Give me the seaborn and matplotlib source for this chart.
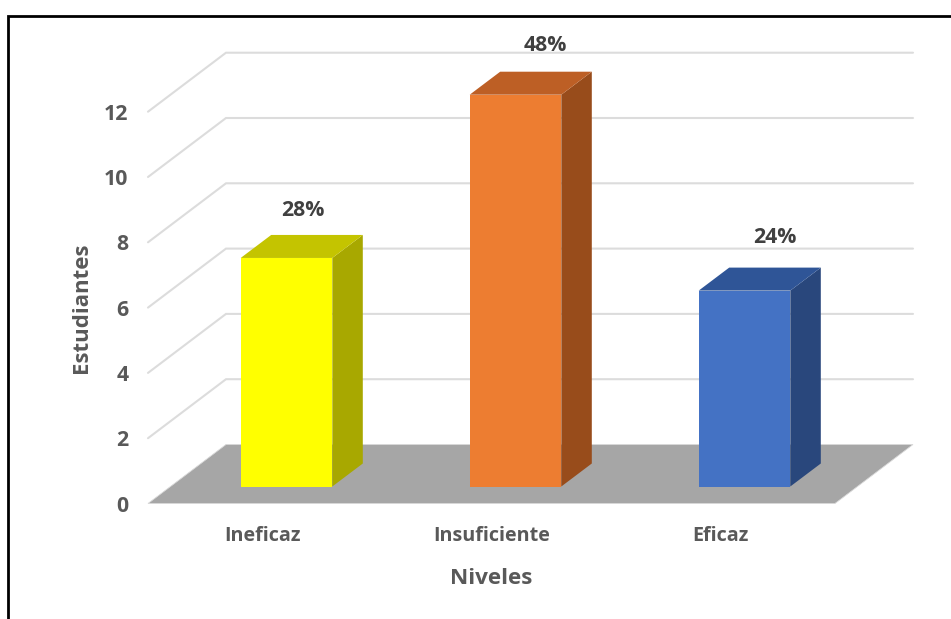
import matplotlib
matplotlib.use("Agg")
import matplotlib.pyplot as plt
import pandas as pd
import seaborn as sns
from matplotlib.lines import Line2D
from matplotlib.patches import Polygon

niveles = ["Ineficaz", "Insuficiente", "Eficaz"]
estudiantes = [7, 12, 6]
porcentajes = ["28%", "48%", "24%"]
y_ticks = [0, 2, 4, 6, 8, 10, 12]

front_colors = ["#ffff00", "#ed7d31", "#4472c4"]
top_colors = ["#c4c400", "#bd5f25", "#2f5597"]
side_colors = ["#a8a800", "#984c1b", "#29477c"]
label_shift_px = [(16, 47), (30, 49), (30, 53)]

W, H = 951, 619
LEFT, RIGHT, BASE, TOP12 = 148, 835, 503.5, 111.7
px_x = (RIGHT - LEFT) / 3
px_y = (BASE - TOP12) / 12

# depth of the fake 3d box, in data units
wall_dx, wall_dy = 78 / px_x, 59 / px_y
bar_dx, bar_dy = 30.5 / px_x, 23 / px_y
bar_shift, bar_base = 24 / px_x, 17 / px_y

sns.set_theme(style="white")
plt.rcParams["font.family"] = ["Open Sans", "DejaVu Sans"]
plt.rcParams["font.weight"] = "bold"

fig = plt.figure(figsize=(W / 100, H / 100), dpi=100)
ax = fig.add_axes([LEFT / W, 1 - BASE / H, (RIGHT - LEFT) / W, (BASE - TOP12) / H])

df = pd.DataFrame({"nivel": niveles, "n": estudiantes})
sns.barplot(data=df, x="nivel", y="n", hue="nivel", order=niveles, hue_order=niveles,
            palette=front_colors, width=0.4, bottom=bar_base, legend=False,
            saturation=1, linewidth=0, zorder=4, clip_on=False, ax=ax)

ax.set_xlim(-0.5, 2.5)
ax.set_ylim(0, 12)

# back wall lines + floor
for v in y_ticks[1:]:
    ax.plot([-0.5, -0.5 + wall_dx, 2.5 + wall_dx], [v, v + wall_dy, v + wall_dy],
            color="#dcdcdc", lw=1.5, clip_on=False, zorder=1, solid_joinstyle="miter")
ax.add_patch(Polygon([(-0.5, 0), (2.5, 0), (2.5 + wall_dx, wall_dy), (-0.5 + wall_dx, wall_dy)],
                     facecolor="#a6a6a6", edgecolor="#d9d9d9", lw=0.6, clip_on=False, zorder=2))

# side and top faces of each bar
for i, bar in enumerate(ax.patches[:3]):
    bar.set_x(bar.get_x() + bar_shift)
    x0, x1 = bar.get_x(), bar.get_x() + bar.get_width()
    y0, y1 = bar.get_y(), bar.get_y() + bar.get_height()
    ax.add_patch(Polygon([(x1, y0), (x1 + bar_dx, y0 + bar_dy), (x1 + bar_dx, y1 + bar_dy), (x1, y1)],
                         facecolor=side_colors[i], lw=0, clip_on=False, zorder=3))
    ax.add_patch(Polygon([(x0, y1), (x1, y1), (x1 + bar_dx, y1 + bar_dy), (x0 + bar_dx, y1 + bar_dy)],
                         facecolor=top_colors[i], lw=0, clip_on=False, zorder=3))
    sx, sy = label_shift_px[i]
    ax.annotate(porcentajes[i], ((x0 + x1) / 2, y1), xytext=(sx * 0.72, sy * 0.72),
                textcoords="offset points", ha="center", va="center",
                color="#404040", fontsize=15.3, fontweight="bold", annotation_clip=False)

sns.despine(ax=ax, left=True, bottom=True)
ax.set_yticks(y_ticks)
ax.tick_params(axis="y", length=0, pad=14, labelsize=15.3, labelcolor="#595959")
ax.tick_params(axis="x", length=0, pad=16, labelsize=14.2, labelcolor="#595959")
for t in ax.get_xticklabels() + ax.get_yticklabels():
    t.set_fontweight("bold")
ax.set_xlabel("Niveles", fontsize=16.2, fontweight="bold", color="#595959", labelpad=16)
ax.set_ylabel("Estudiantes", fontsize=16, fontweight="bold", color="#595959", labelpad=9)

# black frame of the screenshot, left and top only
fig.add_artist(Line2D([8 / W, 8 / W, 1], [0, 1 - 16 / H, 1 - 16 / H], color="black",
                      lw=2, solid_joinstyle="miter"))

fig.savefig("out.png", dpi=100, facecolor="white")
